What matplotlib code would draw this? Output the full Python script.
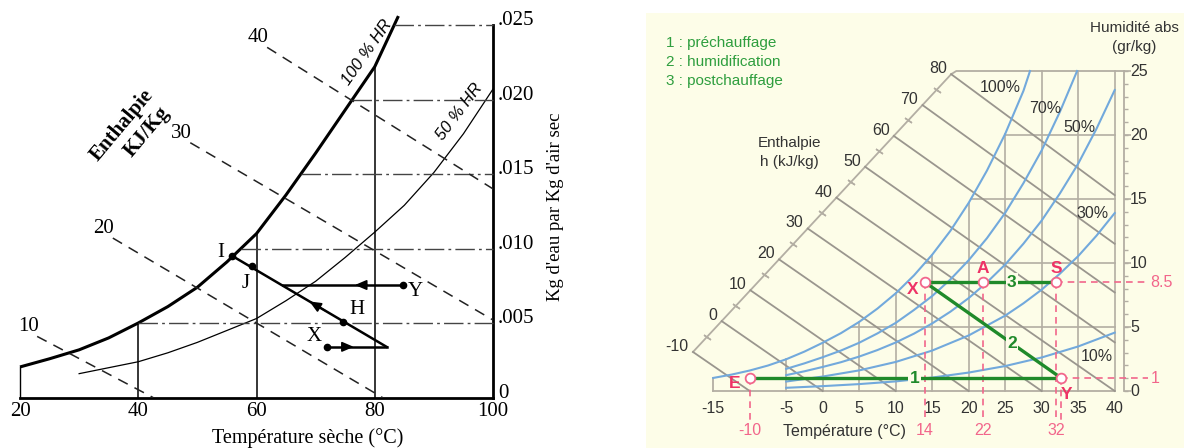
# Deux diagrammes psychrometriques cote a cote
import matplotlib.pyplot as plt
import numpy as np
from matplotlib.patches import Rectangle

# ---------------- diagramme de gauche (sechage) ----------------
# courbe 100 % HR  (temperature en °C, kg d'eau / kg d'air sec)
sat_t = [20, 25, 30, 35, 40, 45, 50, 55, 60, 65, 70, 75, 80, 84]
sat_w = [0.00205, 0.0026, 0.0032, 0.0040, 0.0050, 0.0061, 0.0074, 0.0091,
         0.0110, 0.0136, 0.0164, 0.0193, 0.0222, 0.0256]
# courbe 50 % HR
hr50_t = [30, 35, 40, 45, 50, 55, 60, 65, 70, 75, 80, 85, 90, 95, 100]
hr50_w = [0.0016, 0.0020, 0.0024, 0.0030, 0.0037, 0.0045, 0.0053, 0.0065,
          0.0078, 0.0094, 0.0111, 0.0129, 0.0151, 0.0177, 0.0207]

# droites d'enthalpie (pointillees)
enth_vals = [10, 20, 30, 40]
enth_start_t = [22.9, 35.7, 48.8, 61.8]
enth_start_w = [0.0041, 0.0107, 0.0171, 0.0235]
enth_end_t = [42.5, 81.3, 100, 100]
enth_end_w = [0.0, 0.0, 0.0052, 0.0140]

t_ticks = [20, 40, 60, 80, 100]
w_ticks = [0, 0.005, 0.010, 0.015, 0.020, 0.025]
w_ticklabels = ['0', '.005', '.010', '.015', '.020', '.025']
grid_t = [40, 60, 80]

# points du procede
pt_names = ['I', 'J', 'H', 'X', 'Y']
pt_t = [55.9, 59.2, 74.7, 71.9, 84.8]
pt_w = [0.0095, 0.0088, 0.0051, 0.0034, 0.00755]
tip_t, tip_w = 82.0, 0.0034      # pointe ou se rejoignent X et la diagonale
y_end_t = 64.4                   # fin de la droite partant de Y

# ---------------- diagramme de droite (traitement d'air) ----------------
temp_ticks = [-15, -5, 0, 5, 10, 15, 20, 25, 30, 35, 40]
hum_ticks = [0, 5, 10, 15, 20, 25]

sat100_t = [-15, -12.5, -10, -7.5, -5, -2.5, 0, 2.5, 5, 7.5, 10, 12.5, 15,
            17.5, 20, 22.5, 25, 27.5, 28.4]
sat100_w = [1.02, 1.28, 1.60, 1.99, 2.48, 3.08, 3.77, 4.52, 5.40, 6.44, 7.63,
            9.03, 10.65, 12.52, 14.70, 17.22, 20.09, 23.45, 25.0]
rh70_t = [-5, -2.5, 0, 2.5, 5, 7.5, 10, 12.5, 15, 17.5, 20, 22.5, 25, 27.5,
          30, 32.5, 34.85]
rh70_w = [1.73, 2.16, 2.64, 3.16, 3.77, 4.50, 5.32, 6.33, 7.42, 8.72, 10.22,
          11.94, 13.92, 16.24, 18.80, 21.82, 25.0]
rh50_t = [-5, -2.5, 0, 2.5, 5, 7.5, 10, 12.5, 15, 17.5, 20, 22.5, 25, 27.5,
          30, 32.5, 35, 37.5, 40]
rh50_w = [1.24, 1.54, 1.88, 2.25, 2.69, 3.20, 3.79, 4.48, 5.28, 6.20, 7.26,
          8.49, 9.88, 11.51, 13.32, 15.44, 17.76, 20.48, 23.51]
rh30_t = [-5, 0, 5, 10, 15, 20, 25, 27.5, 30, 32.5, 35, 37.5, 40]
rh30_w = [0.74, 1.13, 1.61, 2.27, 3.16, 4.34, 5.89, 6.85, 7.92, 9.17, 10.54,
          12.13, 13.90]
rh10_t = [-5, 0, 5, 10, 15, 20, 25, 30, 35, 40]
rh10_w = [0.25, 0.38, 0.54, 0.75, 1.05, 1.44, 1.95, 2.62, 3.48, 4.56]

rh_labels = ['100%', '70%', '50%', '30%', '10%']
rh_label_t = [24.3, 30.5, 35.2, 37.0, 37.6]
rh_label_w = [23.7, 22.1, 20.6, 13.9, 2.66]

# enthalpie (kJ/kg) : echelle oblique et fin de chaque droite
enth2_vals = [-10, 0, 10, 20, 30, 40, 50, 60, 70, 80]
enth2_end_t = [-10, 0, 10, 20, 30, 40, 40, 40, 40, 40]
enth2_end_w = [0, 0, 0, 0, 0, 0, 3.8, 7.7, 11.5, 15.3]
scale_t = [-17.77, 17.6]     # position de -10 et 80 sur l'echelle
scale_w = [3.05, 24.75]

# points du procede
proc_names = ['E', 'X', 'A', 'S', 'Y']
proc_t = [-10, 14, 22, 32, 32.7]
proc_w = [1, 8.5, 8.5, 8.5, 1]
red_t_labels = ['-10', '14', '22', '32']
red_t_vals = [-10, 14, 22, 32]

legend_lines = ['1 : préchauffage', '2 : humidification', '3 : postchauffage']

# ------------------------------------------------------------------
fig = plt.figure(figsize=(11.84, 4.48), dpi=100)
fig.patch.set_facecolor('white')
ax1 = fig.add_axes([0, 0, 600 / 1184, 1])
ax2 = fig.add_axes([600 / 1184, 0, 584 / 1184, 1])
ax1.set_xlim(16.617, 118.097)
ax1.set_ylim(-0.003389, 0.026678)
ax2.set_xlim(-30.507, 49.493)
ax2.set_ylim(-4.453, 30.547)
ax1.set_axis_off()
ax2.set_axis_off()

serif = 'Liberation Serif'
sans = 'Liberation Sans'

# ======================= GAUCHE =======================
ax1.plot(sat_t, sat_w, color='black', lw=2.2, solid_capstyle='butt')
ax1.plot(hr50_t, hr50_w, color='black', lw=0.9)

# cadre : axe du bas, axe de droite, petit bord gauche
ax1.plot([20, 100], [0, 0], color='black', lw=2)
ax1.plot([100, 100], [0, 0.025], color='black', lw=2)
ax1.plot([20, 20], [0, sat_w[0]], color='black', lw=1)

# verticales jusqu'a la courbe de saturation
for t in grid_t:
    ax1.plot([t, t], [0, np.interp(t, sat_t, sat_w)], color='black', lw=1.1)

# horizontales en trait mixte depuis la courbe de saturation
for w in w_ticks[1:]:
    t0 = np.interp(w, sat_w, sat_t)
    ax1.plot([t0, 100], [w, w], color='#444444', lw=1, dashes=(14, 3, 2, 3))

# droites d'enthalpie
for h, t0, w0, t1, w1 in zip(enth_vals, enth_start_t, enth_start_w, enth_end_t, enth_end_w):
    ax1.plot([t0, t1], [w0, w1], color='#222222', lw=1.1, dashes=(7, 5))
    ax1.annotate(str(h), (t0, w0), xytext=(1, 0), textcoords='offset points',
                 ha='right', va='bottom', fontsize=15, family=serif)

# procede : I -> pointe, X -> pointe, Y -> diagonale
ax1.plot([pt_t[0], tip_t], [pt_w[0], tip_w], color='black', lw=1.8)
ax1.plot([pt_t[3], tip_t], [pt_w[3], tip_w], color='black', lw=1.8)
ax1.plot([pt_t[4], y_end_t], [pt_w[4], pt_w[4]], color='black', lw=1.8)
ax1.plot(pt_t, pt_w, 'o', color='black', markersize=4.5)


def arrow(ax, a, b, f):
    # fleche pleine sur le segment a -> b, a la fraction f
    head = (a[0] + f * (b[0] - a[0]), a[1] + f * (b[1] - a[1]))
    tail = (a[0] + (f - 0.1) * (b[0] - a[0]), a[1] + (f - 0.1) * (b[1] - a[1]))
    ax.annotate('', xy=head, xytext=tail,
                arrowprops=dict(arrowstyle='-|>,head_length=0.7,head_width=0.3',
                                color='black', lw=1.2, mutation_scale=10,
                                shrinkA=0, shrinkB=0))


arrow(ax1, (pt_t[3], pt_w[3]), (tip_t, tip_w), 0.45)
arrow(ax1, (tip_t, tip_w), (pt_t[0], pt_w[0]), 0.5)
arrow(ax1, (pt_t[4], pt_w[4]), (y_end_t, pt_w[4]), 0.4)

pt_offsets = [(-8.6, 2.2), (-4.3, -12.2), (10, 8.6), (-9.4, 7.2), (8.6, -5)]
for name, t, w, off in zip(pt_names, pt_t, pt_w, pt_offsets):
    ax1.annotate(name, (t, w), xytext=off, textcoords='offset points',
                 ha='center', va='center', fontsize=15, family=serif)

# graduations
for t in t_ticks:
    ax1.text(t, -0.00097, str(t), ha='center', va='center', fontsize=15, family=serif)
for w, lab in zip(w_ticks, w_ticklabels):
    ax1.annotate(lab, (100, w), xytext=(3.5, 3), textcoords='offset points',
                 ha='left', va='center', fontsize=15, family=serif)

ax1.text(68.7, -0.00272, 'Température sèche (°C)', ha='center', va='center',
         fontsize=14.5, family=serif)
ax1.text(110.5, 0.01279, "Kg d'eau par Kg d'air sec", rotation=90, ha='center',
         va='center', fontsize=13.5, family=serif)
ax1.text(37.2, 0.0183, 'Enthalpie', rotation=50, ha='center', va='center',
         fontsize=15, family=serif, fontweight='bold')
ax1.text(41.4, 0.0178, 'KJ/Kg', rotation=50, ha='center', va='center',
         fontsize=15, family=serif, fontweight='bold')
ax1.text(78.7, 0.02315, '100 % HR', rotation=55, ha='center', va='center',
         fontsize=12, family=sans, style='italic')
ax1.text(94.4, 0.01916, '50 % HR', rotation=53, ha='center', va='center',
         fontsize=12, family=sans, style='italic')

# ======================= DROITE =======================
cream = '#FDFDE8'
grid_c = '#B3AEA3'
enth_c = '#9A968E'
blue = '#72A9DC'
green = '#1F8A2A'
pink = '#F2668B'
red = '#EE3366'

ax2.add_patch(Rectangle((0.0788, 0), 0.9212, 0.971, transform=ax2.transAxes,
                        facecolor=cream, edgecolor='none', zorder=0))

# grille : verticales jusqu'a la saturation, horizontales depuis la saturation
for t in temp_ticks[1:-1]:
    top = min(np.interp(t, sat100_t, sat100_w), 25)
    ax2.plot([t, t], [0, top], color=grid_c, lw=1.2, zorder=1)
for w in hum_ticks[1:-1]:
    ax2.plot([np.interp(w, sat100_w, sat100_t), 40], [w, w], color=grid_c, lw=1.2, zorder=1)

# cadre
ax2.plot([-15, 40], [0, 0], color=grid_c, lw=1.3, zorder=1)
ax2.plot([-15, -15], [0, sat100_w[0]], color=grid_c, lw=1.3, zorder=1)
ax2.plot([40, 40], [0, 25], color=grid_c, lw=1.2, zorder=1)
ax2.plot([scale_t[1], 18.3, 41.3], [scale_w[1], 25, 25], color=grid_c, lw=1.3, zorder=1)
ax2.plot([41.3, 41.3], [0, 25], color=grid_c, lw=1.3, zorder=1)

# axe d'humidite a droite
minor = np.arange(0, 26)
ax2.plot(np.full(len(minor), 41.3), minor, linestyle='none', marker=1,
         markersize=3, color=grid_c, mew=1)
ax2.plot(np.full(len(hum_ticks), 41.3), hum_ticks, linestyle='none', marker=1,
         markersize=5, color=grid_c, mew=1.2)
for w in hum_ticks:
    ax2.text(42.1, w, str(w), ha='left', va='center', fontsize=11.5, family=sans, color='#333333')
ax2.text(42.7, 28.36, 'Humidité abs', ha='center', va='center', fontsize=11, family=sans, color='#333333')
ax2.text(42.7, 26.9, '(gr/kg)', ha='center', va='center', fontsize=11, family=sans, color='#333333')

# echelle et droites d'enthalpie
ax2.plot(scale_t, scale_w, color=grid_c, lw=1.3, zorder=1)
minor_h = np.arange(-5, 80, 10)
ax2.plot(np.interp(minor_h, [-10, 80], scale_t), np.interp(minor_h, [-10, 80], scale_w),
         linestyle='none', marker=(2, 2, 55), markersize=6, color=grid_c, mew=1.1)
for h, t1, w1 in zip(enth2_vals, enth2_end_t, enth2_end_w):
    t0 = np.interp(h, [-10, 80], scale_t)
    w0 = np.interp(h, [-10, 80], scale_w)
    ax2.plot([t0, t1], [w0, w1], color=enth_c, lw=1.3, zorder=2)
    ax2.annotate(str(h), (t0, w0), xytext=(-3, 4), textcoords='offset points',
                 ha='right', va='center', fontsize=11.5, family=sans, color='#333333')
ax2.text(-4.5, 19.4, 'Enthalpie', ha='center', va='center', fontsize=11, family=sans, color='#333333')
ax2.text(-4.5, 17.9, 'h (kJ/kg)', ha='center', va='center', fontsize=11, family=sans, color='#333333')

# courbes d'humidite relative
for ct, cw in [(sat100_t, sat100_w), (rh70_t, rh70_w), (rh50_t, rh50_w),
               (rh30_t, rh30_w), (rh10_t, rh10_w)]:
    ax2.plot(ct, cw, color=blue, lw=1.5, zorder=3)
for lab, t, w in zip(rh_labels, rh_label_t, rh_label_w):
    ax2.text(t, w, lab, ha='center', va='center', fontsize=11.5, family=sans,
             color='#333333', zorder=4)

# graduations de temperature
for t in temp_ticks:
    ax2.text(t, -1.4, str(t), ha='center', va='center', fontsize=11.5, family=sans, color='#333333')
ax2.text(3.05, -3.2, 'Température (°C)', ha='center', va='center', fontsize=11.5,
         family=sans, color='#333333')

# reperes en pointilles roses
for t, w in zip(proc_t, proc_w):
    ax2.plot([t, t], [w, -2.3], color=pink, lw=1.2, dashes=(4, 3), zorder=4)
ax2.plot([proc_t[3], 44.6], [8.5, 8.5], color=pink, lw=1.2, dashes=(4, 3), zorder=4)
ax2.plot([proc_t[4], 44.6], [1, 1], color=pink, lw=1.2, dashes=(4, 3), zorder=4)
ax2.text(44.9, 8.5, '8.5', ha='left', va='center', fontsize=11.5, family=sans, color=pink)
ax2.text(45.0, 1, '1', ha='left', va='center', fontsize=11.5, family=sans, color=pink)
for lab, t in zip(red_t_labels, red_t_vals):
    ax2.text(t, -3.05, lab, ha='center', va='center', fontsize=11.5, family=sans, color=pink)

# evolutions 1, 2, 3
ax2.plot([proc_t[0], proc_t[4]], [proc_w[0], proc_w[4]], color=green, lw=2.4, zorder=5)
ax2.plot([proc_t[1], proc_t[4]], [proc_w[1], proc_w[4]], color=green, lw=2.4, zorder=5)
ax2.plot([proc_t[1], proc_t[3]], [proc_w[1], proc_w[3]], color=green, lw=2.4, zorder=5)
for lab, t, w in [('1', 12.6, 1.0), ('2', 25.9, 3.7), ('3', 25.9, 8.5)]:
    ax2.text(t, w, lab, ha='center', va='center', fontsize=12.5, family=sans,
             fontweight='bold', color=green, zorder=6,
             bbox=dict(facecolor=cream, edgecolor='none', pad=1))

ax2.plot(proc_t, proc_w, 'o', markersize=7, mfc='white', mec=pink, mew=1.3, zorder=7)
name_offsets = [(-10.5, -3.5), (-8.5, -5.5), (0, 10), (0, 10), (4, -11.5)]
for name, t, w, off in zip(proc_names, proc_t, proc_w, name_offsets):
    ax2.annotate(name, (t, w), xytext=off, textcoords='offset points', ha='center',
                 va='center', fontsize=12.5, family=sans, fontweight='bold', color=red, zorder=8)

for i, line in enumerate(legend_lines):
    ax2.text(-21.5, 27.2 - 1.5 * i, line, ha='left', va='center', fontsize=11,
             family=sans, color='#2E9E3E')

fig.savefig('out.png', dpi=100)
